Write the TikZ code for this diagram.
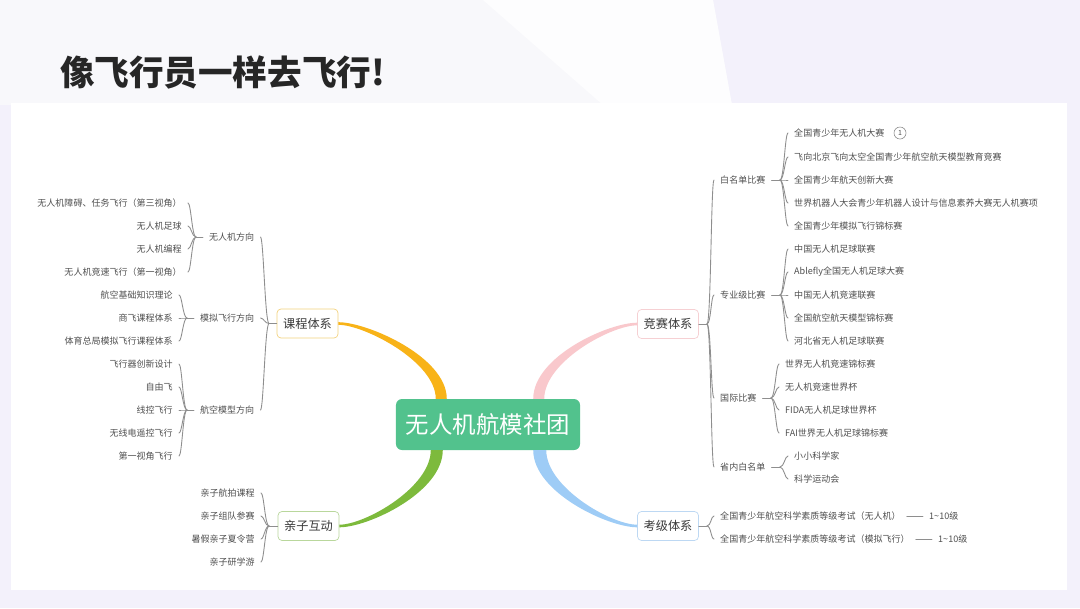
\documentclass[tikz,border=0pt]{standalone}
\usepackage{fontspec}
\setmainfont{Noto Sans CJK SC}
\usetikzlibrary{calc}
\definecolor{bgtint}{HTML}{F3F1FB}
\definecolor{bglite}{HTML}{F8F8FB}
\definecolor{bgwhite}{HTML}{FDFDFE}
\definecolor{inktxt}{HTML}{505050}
\definecolor{twiggray}{HTML}{8E8E8E}
\definecolor{hubgreen}{HTML}{52C28D}
\definecolor{brorange}{HTML}{F8B318}
\definecolor{brgreen}{HTML}{7DBA3C}
\definecolor{brpink}{HTML}{F9C8CC}
\definecolor{brblue}{HTML}{9ECCF6}
\definecolor{edorange}{HTML}{F3D27E}
\definecolor{edgreen}{HTML}{B9D79C}
\definecolor{edpink}{HTML}{F6D0D3}
\definecolor{edblue}{HTML}{BDD8F3}
\begin{document}
\begin{tikzpicture}[x=0.03cm,y=-0.03cm,line cap=round,line join=round,
  leaf/.style={inner xsep=0.18cm,inner ysep=0.05cm,text=inktxt,font=\fontsize{7.7}{9}\selectfont},
  branch/.style={draw=#1,line width=0.6pt,fill=white,rounded corners=0.12cm,minimum width=1.83cm,
    minimum height=0.87cm,inner sep=0pt,text=black!78,font=\fontsize{10.4}{12}\selectfont},
  twig/.style={draw=twiggray,line width=0.75pt}]
  \useasboundingbox (0,0) rectangle (1080,608);
  % page
  \fill[bgtint] (0,0) rectangle (1080,608);
  \fill[bglite] (0,0) -- (713,0) -- (732,105) -- (0,105) -- cycle;
  \fill[bgwhite] (483,0) -- (713,0) -- (732,105) -- (603,105) -- cycle;
  \fill[white] (11,103) rectangle (1067,590);
  \node[anchor=west,text=black!85,font=\fontsize{29.5}{34}\selectfont\bfseries] (title) at (56,72) {像飞行员一样去飞行!};
  % centre and main branches
  \node[fill=hubgreen,rounded corners=0.18cm,minimum width=5.52cm,minimum height=1.53cm,inner sep=0pt,
    text=white,font=\fontsize{20}{24}\selectfont] (hub) at (488,424.5) {无人机航模社团};
  \node[branch=edorange] (kc) at (307.5,323.5) {课程体系};
  \node[branch=edgreen] (qz) at (308.5,526) {亲子互动};
  \node[branch=edpink] (js) at (668,324) {竞赛体系};
  \node[branch=edblue] (kj) at (668,526) {考级体系};
  \fill[brorange] ($(kc.east)+(0,-1.3)$) .. controls ($(kc.east)+(29,-1.3)$) and ($(hub.north west)+(51,-42)$) .. ($(hub.north west)+(51,0)$)
    -- ($(hub.north west)+(40,0)$) .. controls ($(hub.north west)+(40,-37)$) and ($(kc.east)+(26,1.3)$) .. ($(kc.east)+(0,1.3)$) -- cycle;
  \fill[brgreen] ($(qz.east)+(0,1.3)$) .. controls ($(qz.east)+(29,1.3)$) and ($(hub.south west)+(47,42)$) .. ($(hub.south west)+(47,0)$)
    -- ($(hub.south west)+(35,0)$) .. controls ($(hub.south west)+(35,37)$) and ($(qz.east)+(26,-1.3)$) .. ($(qz.east)+(0,-1.3)$) -- cycle;
  \fill[brpink] ($(js.west)+(0,-1.3)$) .. controls ($(js.west)+(-29,-1.3)$) and ($(hub.north east)+(-47,-42)$) .. ($(hub.north east)+(-47,0)$)
    -- ($(hub.north east)+(-36,0)$) .. controls ($(hub.north east)+(-36,-37)$) and ($(js.west)+(-26,1.3)$) .. ($(js.west)+(0,1.3)$) -- cycle;
  \fill[brblue] ($(kj.west)+(0,1.3)$) .. controls ($(kj.west)+(-29,1.3)$) and ($(hub.south east)+(-47,42)$) .. ($(hub.south east)+(-47,0)$)
    -- ($(hub.south east)+(-34,0)$) .. controls ($(hub.south east)+(-34,37)$) and ($(kj.west)+(-26,-1.3)$) .. ($(kj.west)+(0,-1.3)$) -- cycle;
  % left: 课程体系
  \node[leaf,anchor=east] (wrj) at (260.5,237) {无人机方向};
  \node[leaf,anchor=east] (mnfx) at (260.5,318) {模拟飞行方向};
  \node[leaf,anchor=east] (hkmx) at (260.5,410) {航空模型方向};
  \node[leaf,anchor=east] (wrj1) at (188,203) {无人机障碍、任务飞行（第三视角）};
  \node[leaf,anchor=east] (wrj2) at (188,226) {无人机足球};
  \node[leaf,anchor=east] (wrj3) at (188,249) {无人机编程};
  \node[leaf,anchor=east] (wrj4) at (188,272) {无人机竞速飞行（第一视角）};
  \node[leaf,anchor=east] (mn1) at (179,295) {航空基础知识理论};
  \node[leaf,anchor=east] (mn2) at (179,318) {商飞课程体系};
  \node[leaf,anchor=east] (mn3) at (179,341) {体育总局模拟飞行课程体系};
  \node[leaf,anchor=east] (hk1) at (179,364) {飞行器创新设计};
  \node[leaf,anchor=east] (hk2) at (179,387) {自由飞};
  \node[leaf,anchor=east] (hk3) at (179,410) {线控飞行};
  \node[leaf,anchor=east] (hk4) at (179,433) {无线电遥控飞行};
  \node[leaf,anchor=east] (hk5) at (179,456) {第一视角飞行};
  % left: 亲子互动
  \node[leaf,anchor=east] (qz1) at (261,493) {亲子航拍课程};
  \node[leaf,anchor=east] (qz2) at (261,516) {亲子组队参赛};
  \node[leaf,anchor=east] (qz3) at (261,539) {暑假亲子夏令营};
  \node[leaf,anchor=east] (qz4) at (261,562) {亲子研学游};
  % right: 竞赛体系
  \node[leaf,anchor=west] (bmd) at (714,180) {白名单比赛};
  \node[leaf,anchor=west] (zyj) at (714,295) {专业级比赛};
  \node[leaf,anchor=west] (gjbs) at (714,398) {国际比赛};
  \node[leaf,anchor=west] (snbm) at (714,467) {省内白名单};
  \node[leaf,anchor=west] (bm1) at (788,133) {全国青少年无人机大赛};
  \node[circle,draw=twiggray,line width=0.5pt,inner sep=0pt,minimum size=0.36cm,text=inktxt,
    font=\fontsize{6}{6}\selectfont] (bm1tag) at (900,133) {1};
  \node[leaf,anchor=west] (bm2) at (788,157) {飞向北京飞向太空全国青少年航空航天模型教育竞赛};
  \node[leaf,anchor=west] (bm3) at (788,180) {全国青少年航天创新大赛};
  \node[leaf,anchor=west] (bm4) at (788,203) {世界机器人大会青少年机器人设计与信息素养大赛无人机赛项};
  \node[leaf,anchor=west] (bm5) at (788,226) {全国青少年模拟飞行锦标赛};
  \node[leaf,anchor=west] (zy1) at (788,249) {中国无人机足球联赛};
  \node[leaf,anchor=west] (zy2) at (788,272) {Ablefly全国无人机足球大赛};
  \node[leaf,anchor=west] (zy3) at (788,295) {中国无人机竞速联赛};
  \node[leaf,anchor=west] (zy4) at (788,318) {全国航空航天模型锦标赛};
  \node[leaf,anchor=west] (zy5) at (788,341) {河北省无人机足球联赛};
  \node[leaf,anchor=west] (gj1) at (779,364) {世界无人机竞速锦标赛};
  \node[leaf,anchor=west] (gj2) at (779,387) {无人机竞速世界杯};
  \node[leaf,anchor=west] (gj3) at (779,410) {FIDA无人机足球世界杯};
  \node[leaf,anchor=west] (gj4) at (779,433) {FAI世界无人机足球锦标赛};
  \node[leaf,anchor=west] (sn1) at (788,456) {小小科学家};
  \node[leaf,anchor=west] (sn2) at (788,479) {科学运动会};
  % right: 考级体系
  \node[leaf,anchor=west] (kj1) at (714,516) {全国青少年航空科学素质等级考试（无人机）};
  \node[leaf,anchor=west] (kj2) at (714,539) {全国青少年航空科学素质等级考试（模拟飞行）};
  \node[leaf,anchor=west] (lv1) at (923,516) {1\textasciitilde10级};
  \node[leaf,anchor=west] (lv2) at (932,539) {1\textasciitilde10级};
  % brace stubs
  \coordinate (kc-s) at (269,323.5);
  \coordinate (wrj-s) at (196,237);
  \coordinate (mnfx-s) at (187,318);
  \coordinate (hkmx-s) at (187,410);
  \coordinate (qz-s) at (269,526);
  \coordinate (js-s) at (707,324);
  \coordinate (bmd-s) at (780,180);
  \coordinate (zyj-s) at (780,295);
  \coordinate (gjbs-s) at (771,398);
  \coordinate (snbm-s) at (780,467);
  \coordinate (kj-s) at (707,526);
  % left braces
  \foreach \p/\kids in {kc/{wrj,mnfx,hkmx},wrj/{wrj1,wrj2,wrj3,wrj4},mnfx/{mn1,mn2,mn3},
      hkmx/{hk1,hk2,hk3,hk4,hk5},qz/{qz1,qz2,qz3,qz4}}{
    \draw[twig] (\p.west) -- (\p-s);
    \foreach \c in \kids
      \draw[twig] (\p-s) .. controls +(-4,0) and +(3,0) .. (\c.east);
  }
  % right braces
  \foreach \p/\kids in {js/{bmd,zyj,gjbs,snbm},bmd/{bm1,bm2,bm3,bm4,bm5},zyj/{zy1,zy2,zy3,zy4,zy5},
      gjbs/{gj1,gj2,gj3,gj4},snbm/{sn1,sn2},kj/{kj1,kj2}}{
    \draw[twig] (\p.east) -- (\p-s);
    \foreach \c in \kids
      \draw[twig] (\p-s) .. controls +(4,0) and +(-3,0) .. (\c.west);
  }
  \draw[twig] (kj1.east) -- (lv1.west);
  \draw[twig] (kj2.east) -- (lv2.west);
\end{tikzpicture}
\end{document}
